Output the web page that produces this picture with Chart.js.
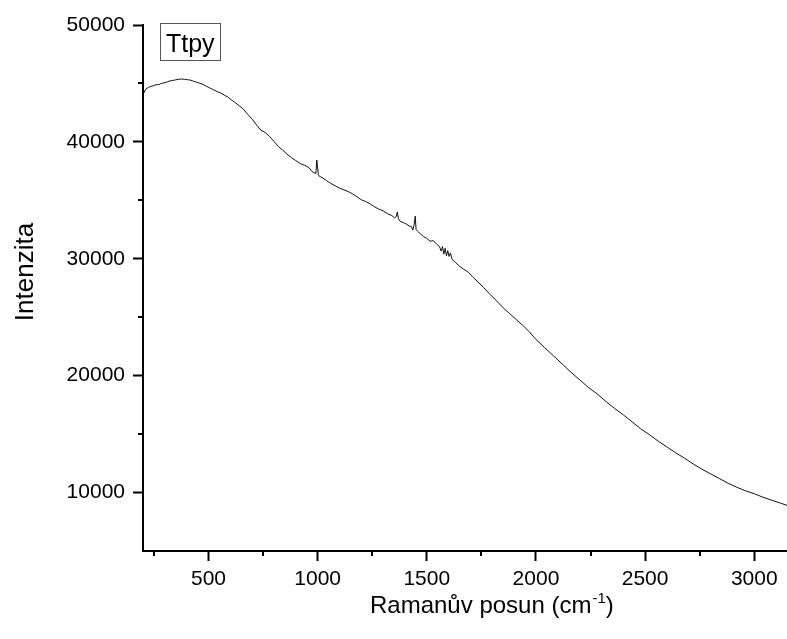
<!DOCTYPE html>
<html>
<head>
<meta charset="utf-8">
<script src="https://cdn.jsdelivr.net/npm/chart.js@4"></script>
<style>
html,body{margin:0;padding:0;background:#fff;}
canvas{display:block;}
</style>
</head>
<body>
<canvas id="c" width="787" height="639"></canvas>
<script>
// Raman shift (cm-1)
const ramanShift = [
  200, 212, 224, 236, 248, 260, 272, 284, 296, 308, 320, 334, 348, 362, 376, 390, 404, 418, 432, 446,
  460, 476, 492, 508, 524, 540, 556, 572, 588, 604, 620, 640, 660, 680, 700, 720, 740, 760, 780, 800,
  820, 840, 860, 880, 900, 920, 940, 960, 975, 985, 992, 996, 999, 1003, 1008, 1020, 1040, 1060, 1080, 1100,
  1120, 1140, 1160, 1180, 1200, 1220, 1240, 1260, 1280, 1300, 1320, 1340, 1352, 1360, 1365, 1370, 1378, 1392, 1408, 1420,
  1430, 1436, 1442, 1447, 1451, 1458, 1470, 1485, 1500, 1515, 1530, 1545, 1558, 1566, 1572, 1578, 1584, 1590, 1596, 1602,
  1608, 1616, 1630, 1650, 1670, 1690, 1710, 1730, 1760, 1790, 1820, 1850, 1880, 1910, 1940, 1970, 2000, 2040, 2080, 2120,
  2160, 2200, 2240, 2280, 2320, 2360, 2400, 2440, 2480, 2520, 2560, 2600, 2640, 2680, 2720, 2760, 2800, 2840, 2880, 2920,
  2960, 3000, 3040, 3080, 3120, 3150
];
// Intensity
const intensity = [
  44050, 44500, 44650, 44750, 44800, 44900, 44900, 45000, 45050, 45100, 45200, 45250, 45300, 45350, 45380, 45350, 45320, 45280, 45180, 45100,
  45020, 44900, 44750, 44590, 44450, 44300, 44180, 44000, 43850, 43600, 43400, 43100, 42800, 42350, 41950, 41450, 41000, 40800, 40450, 40050,
  39600, 39300, 38950, 38650, 38400, 38150, 38000, 37800, 37450, 37350, 37300, 38450, 38000, 37200, 37050, 36950, 36700, 36450, 36250, 36050,
  35900, 35750, 35550, 35300, 35050, 34900, 34700, 34450, 34250, 34100, 33850, 33700, 33500, 33600, 34000, 33450, 33200, 33100, 32950, 32800,
  32750, 32450, 32900, 33650, 32500, 32350, 32150, 31900, 31750, 31500, 31550, 31250, 31050, 30650, 31050, 30400, 30900, 30250, 30700, 30200,
  30500, 29950, 29700, 29350, 29100, 28850, 28450, 28100, 27550, 26950, 26400, 25800, 25300, 24800, 24300, 23750, 23100, 22400, 21700, 21000,
  20300, 19650, 19000, 18450, 17800, 17200, 16650, 16050, 15450, 14950, 14400, 13900, 13400, 12950, 12450, 12000, 11600, 11200, 10800, 10450,
  10150, 9900, 9600, 9350, 9100, 8900
];
const seriesLabel = 'Ttpy';
const xTickValues = [500, 1000, 1500, 2000, 2500, 3000];
const xMinorValues = [250, 750, 1250, 1750, 2250, 2750];
const yTickValues = [10000, 20000, 30000, 40000, 50000];
const yMinorValues = [15000, 25000, 35000, 45000];
const xTitleMain = 'Ramanův posun (cm';
const xTitleSup = '-1';
const xTitleEnd = ')';
const yTitle = 'Intenzita';

const FONT = '"Liberation Sans", Arial, sans-serif';

const extras = {
  id: 'extras',
  afterDraw(chart) {
    const ctx = chart.ctx;
    const xs = chart.scales.x, ys = chart.scales.y;
    ctx.save();
    ctx.strokeStyle = '#000';
    ctx.lineWidth = 2;
    // minor ticks
    xMinorValues.forEach(v => {
      const px = Math.round(xs.getPixelForValue(v));
      ctx.beginPath(); ctx.moveTo(px, xs.top); ctx.lineTo(px, xs.top + 5); ctx.stroke();
    });
    yMinorValues.forEach(v => {
      const py = Math.round(ys.getPixelForValue(v));
      ctx.beginPath(); ctx.moveTo(ys.right, py); ctx.lineTo(ys.right - 5, py); ctx.stroke();
    });
    // x title with superscript
    ctx.fillStyle = '#000';
    ctx.textBaseline = 'alphabetic';
    ctx.textAlign = 'left';
    ctx.font = '24px ' + FONT;
    const y0 = 613;
    let x0 = 370;
    ctx.fillText(xTitleMain, x0, y0);
    x0 += ctx.measureText(xTitleMain).width;
    ctx.font = '15px ' + FONT;
    ctx.fillText(xTitleSup, x0 + 1, y0 - 10);
    x0 += ctx.measureText(xTitleSup).width + 1;
    ctx.font = '24px ' + FONT;
    ctx.fillText(xTitleEnd, x0, y0);
    // y title
    ctx.save();
    ctx.translate(33, 272);
    ctx.rotate(-Math.PI / 2);
    ctx.textAlign = 'center';
    ctx.font = '26px ' + FONT;
    ctx.fillText(yTitle, 0, 0);
    ctx.restore();
    // legend box
    ctx.lineWidth = 1;
    ctx.strokeStyle = '#555';
    ctx.strokeRect(160.5, 23.5, 60, 37);
    ctx.font = '25px ' + FONT;
    ctx.fillText(seriesLabel, 166, 52);
    ctx.restore();
  }
};

new Chart(document.getElementById('c'), {
  type: 'line',
  data: {
    datasets: [{
      label: seriesLabel,
      data: ramanShift.map((x, i) => ({x: x, y: intensity[i]})),
      borderColor: '#111',
      borderWidth: 1,
      pointRadius: 0,
      tension: 0,
      fill: false
    }]
  },
  options: {
    responsive: false,
    animation: false,
    layout: {padding: {left: 0, right: 0, top: 25, bottom: 0}},
    plugins: {legend: {display: false}, tooltip: {enabled: false}},
    scales: {
      x: {
        type: 'linear',
        min: 200,
        max: 3150,
        afterBuildTicks: s => { s.ticks = xTickValues.map(v => ({value: v})); },
        afterFit: s => { s.height = 88; },
        border: {color: '#000', width: 2},
        grid: {drawOnChartArea: false, drawTicks: true, tickLength: 10, tickWidth: 2, tickColor: '#000'},
        ticks: {color: '#000', font: {family: FONT, size: 21}, padding: 6, maxRotation: 0, autoSkip: false, callback: v => String(v)},
        title: {display: false}
      },
      y: {
        type: 'linear',
        min: 5000,
        max: 50000,
        afterBuildTicks: s => { s.ticks = yTickValues.map(v => ({value: v})); },
        afterFit: s => { s.width = 143; },
        border: {color: '#000', width: 2},
        grid: {drawOnChartArea: false, drawTicks: true, tickLength: 10, tickWidth: 2, tickColor: '#000'},
        ticks: {color: '#000', font: {family: FONT, size: 21}, padding: 8, callback: v => String(v)},
        title: {display: false}
      }
    }
  },
  plugins: [extras]
});
</script>
</body>
</html>
